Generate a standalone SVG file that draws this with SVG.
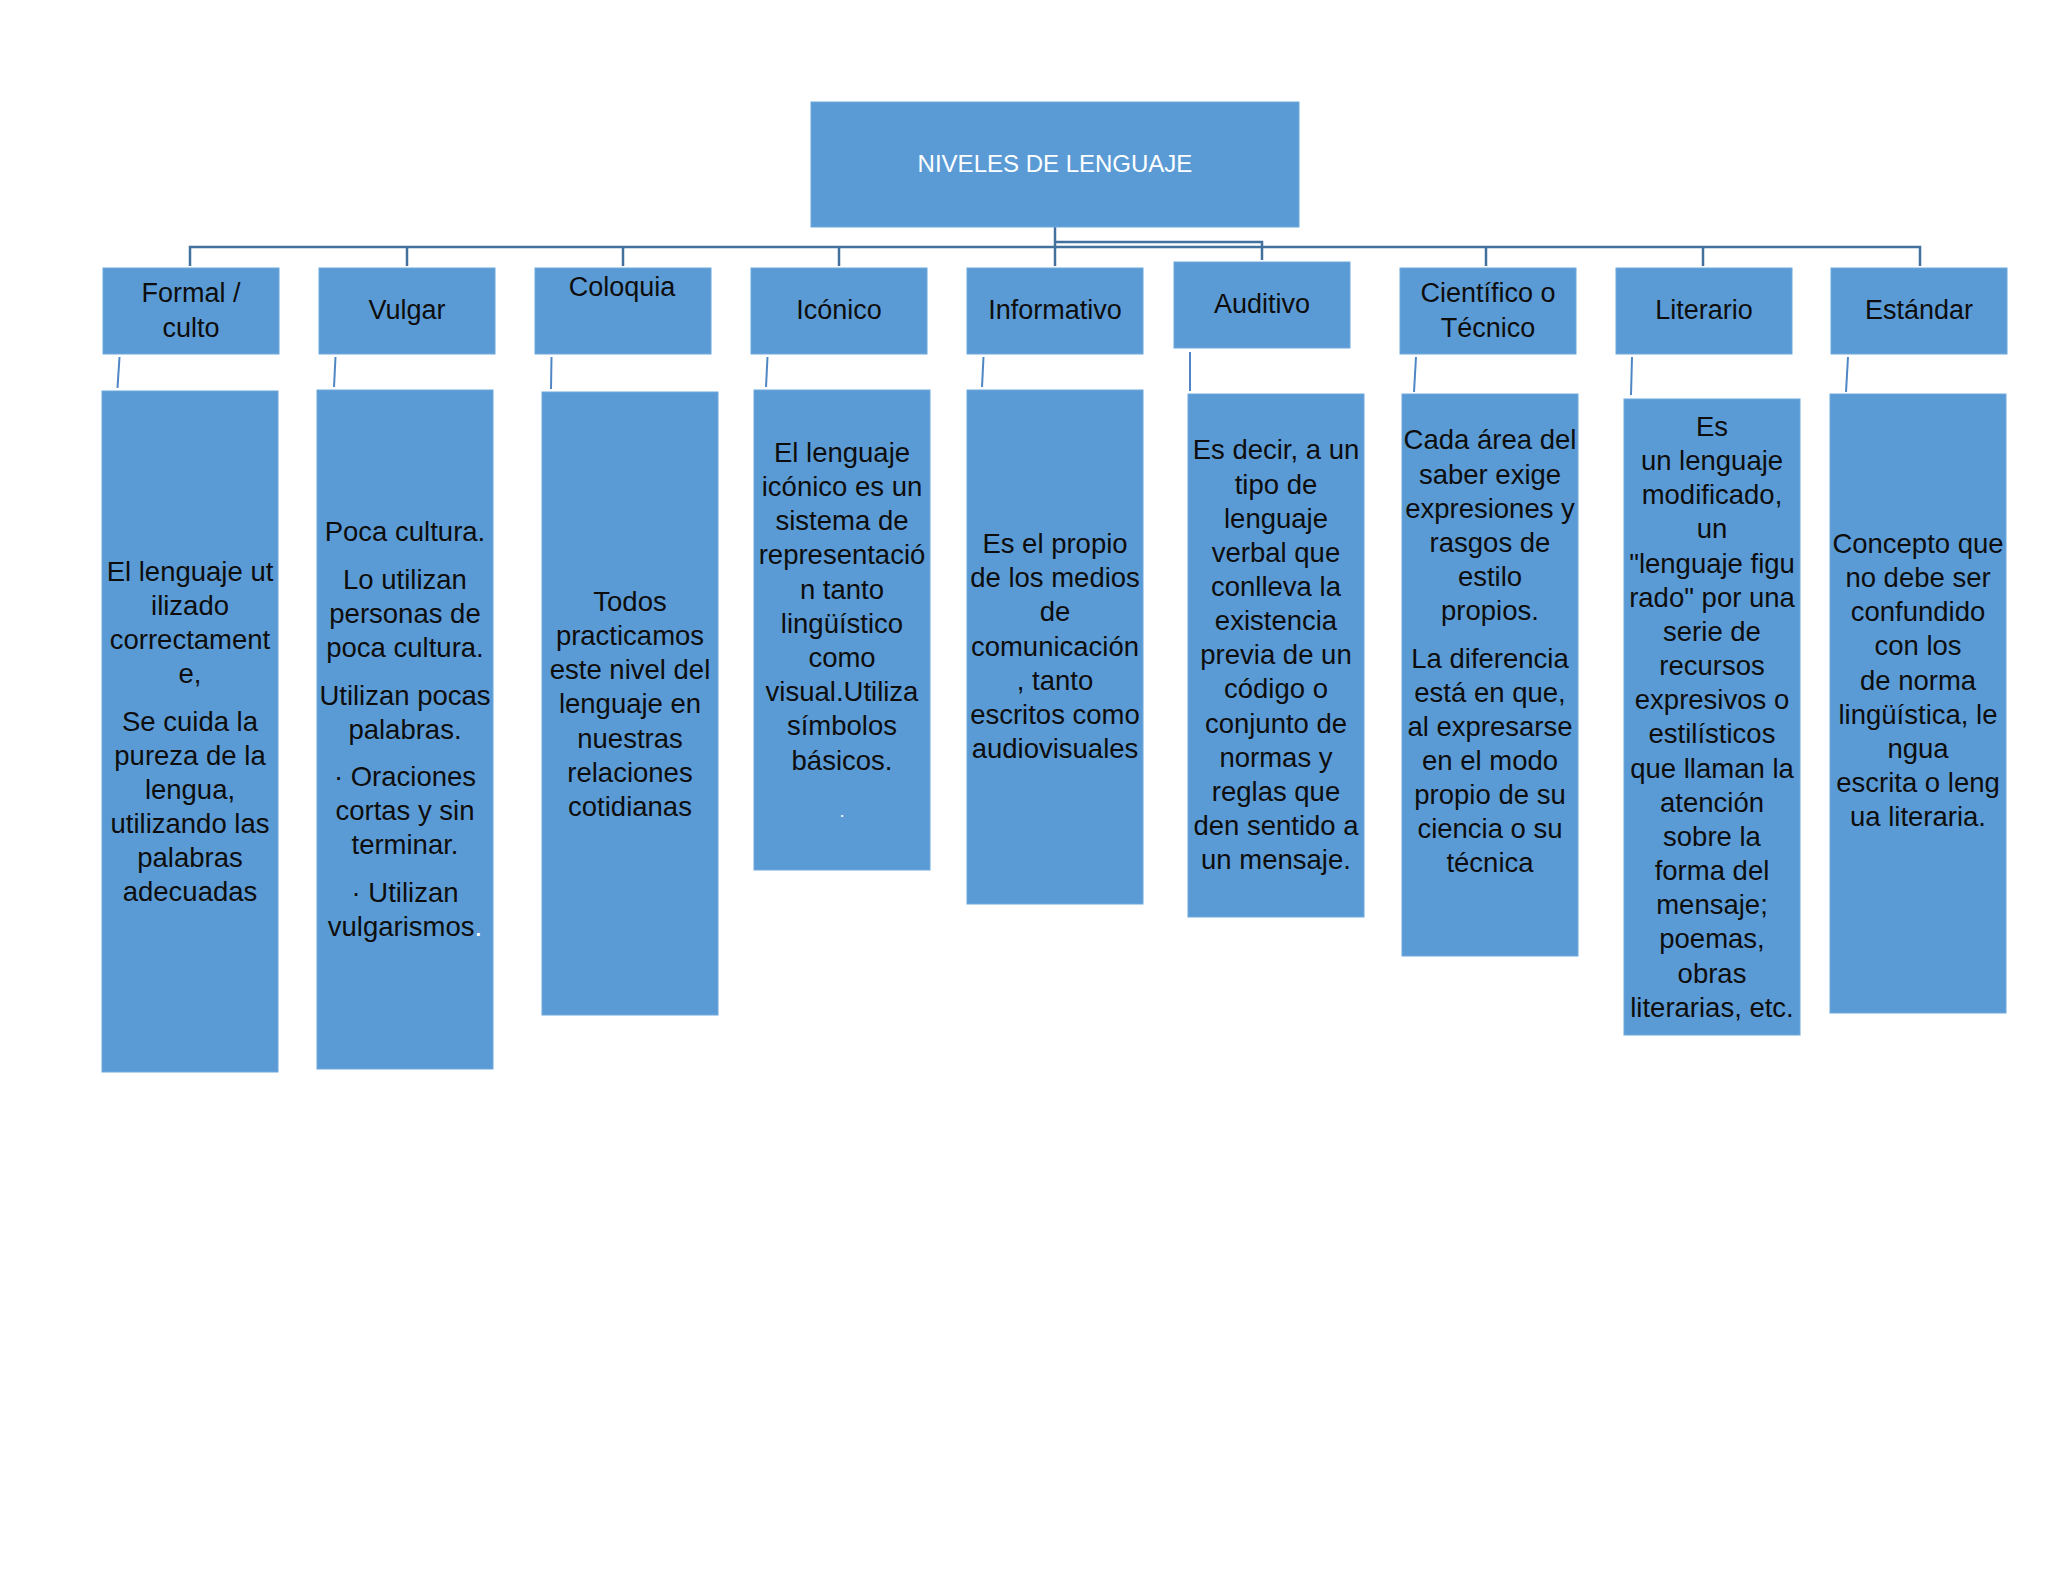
<svg xmlns="http://www.w3.org/2000/svg" width="2048" height="1582" viewBox="0 0 2048 1582">
<style>
.box{fill:#5B9BD5;stroke:#6fa8dc;stroke-width:1}
.hd{font-family:"Liberation Sans",Arial,sans-serif;font-size:27px;fill:#0d0d0d;text-anchor:middle}
.tx{font-family:"Liberation Sans",Arial,sans-serif;font-size:27.5px;fill:#0d0d0d;text-anchor:middle}
.ttl{font-family:"Liberation Sans",Arial,sans-serif;font-size:24px;fill:#ffffff;text-anchor:middle}
.cn{fill:none;stroke:#41719C;stroke-width:2.5}
.sl{fill:none;stroke:#4f87c4;stroke-width:2}
</style>
<rect x="0" y="0" width="2048" height="1582" fill="#ffffff"/>
<g id="connectors">
<path class="cn" d="M1055 227V266"/>
<path class="cn" d="M190 266V247H1920V266"/>
<path class="cn" d="M407 247V266M623 247V266M839 247V266M1486 247V266M1703 247V266"/>
<path class="cn" d="M1055 242H1262V260"/>
<path class="sl" d="M119.5 357L117.5 388"/>
<path class="sl" d="M335.5 357L334 387"/>
<path class="sl" d="M551.5 357L551 389"/>
<path class="sl" d="M767.5 357L766 387"/>
<path class="sl" d="M983.5 357L982 387"/>
<path class="sl" d="M1190 352L1190 391"/>
<path class="sl" d="M1416 357L1414 392"/>
<path class="sl" d="M1632 357L1631 395"/>
<path class="sl" d="M1848 357L1846 392"/>
</g>
<g id="title">
<rect class="box" x="811" y="102" width="488" height="125"/>
<text class="ttl" x="1055" y="172">NIVELES DE LENGUAJE</text>
</g>
<g id="formal">
<rect class="box" x="103" y="268" width="176" height="86"/>
<text class="hd" x="191" y="302">Formal /</text>
<text class="hd" x="191" y="337">culto</text>
</g>
<g id="vulgar">
<rect class="box" x="319" y="268" width="176" height="86"/>
<text class="hd" x="407" y="319">Vulgar</text>
</g>
<g id="coloquia">
<rect class="box" x="535" y="268" width="176" height="86"/>
<text class="hd" x="622" y="296">Coloquia</text>
</g>
<g id="iconico">
<rect class="box" x="751" y="268" width="176" height="86"/>
<text class="hd" x="839" y="319">Icónico</text>
</g>
<g id="informativo">
<rect class="box" x="967" y="268" width="176" height="86"/>
<text class="hd" x="1055" y="319">Informativo</text>
</g>
<g id="auditivo">
<rect class="box" x="1174" y="262" width="176" height="86"/>
<text class="hd" x="1262" y="313">Auditivo</text>
</g>
<g id="cientifico">
<rect class="box" x="1400" y="268" width="176" height="86"/>
<text class="hd" x="1488" y="302">Científico o</text>
<text class="hd" x="1488" y="337">Técnico</text>
</g>
<g id="literario">
<rect class="box" x="1616" y="268" width="176" height="86"/>
<text class="hd" x="1704" y="319">Literario</text>
</g>
<g id="estandar">
<rect class="box" x="1831" y="268" width="176" height="86"/>
<text class="hd" x="1919" y="319">Estándar</text>
</g>
<g id="formal-desc">
<rect class="box" x="102" y="391" width="176" height="681"/>
<text class="tx" x="190"><tspan x="190" y="581">El lenguaje ut</tspan><tspan x="190" y="615">ilizado</tspan><tspan x="190" y="649">correctament</tspan><tspan x="190" y="683">e,</tspan><tspan x="190" y="731">Se cuida la</tspan><tspan x="190" y="765">pureza de la</tspan><tspan x="190" y="799">lengua,</tspan><tspan x="190" y="833">utilizando las</tspan><tspan x="190" y="867">palabras</tspan><tspan x="190" y="901">adecuadas</tspan></text>
</g>
<g id="vulgar-desc">
<rect class="box" x="317" y="390" width="176" height="679"/>
<text class="tx" x="405"><tspan x="405" y="541">Poca cultura.</tspan><tspan x="405" y="589">Lo utilizan</tspan><tspan x="405" y="623">personas de</tspan><tspan x="405" y="657">poca cultura.</tspan><tspan x="405" y="705">Utilizan pocas</tspan><tspan x="405" y="739">palabras.</tspan><tspan x="405" y="786">· Oraciones</tspan><tspan x="405" y="820">cortas y sin</tspan><tspan x="405" y="854">terminar.</tspan><tspan x="405" y="902">· Utilizan</tspan><tspan x="405" y="936">vulgarismos<tspan fill="#ffffff">.</tspan></tspan></text>
</g>
<g id="coloquia-desc">
<rect class="box" x="542" y="392" width="176" height="623"/>
<text class="tx" x="630"><tspan x="630" y="611">Todos</tspan><tspan x="630" y="645">practicamos</tspan><tspan x="630" y="679">este nivel del</tspan><tspan x="630" y="713">lenguaje en</tspan><tspan x="630" y="748">nuestras</tspan><tspan x="630" y="782">relaciones</tspan><tspan x="630" y="816">cotidianas</tspan></text>
</g>
<g id="iconico-desc">
<rect class="box" x="754" y="390" width="176" height="480"/>
<text class="tx" x="842"><tspan x="842" y="462">El lenguaje</tspan><tspan x="842" y="496">icónico es un</tspan><tspan x="842" y="530">sistema de</tspan><tspan x="842" y="564">representació</tspan><tspan x="842" y="599">n tanto</tspan><tspan x="842" y="633">lingüístico</tspan><tspan x="842" y="667">como</tspan><tspan x="842" y="701">visual.Utiliza</tspan><tspan x="842" y="735">símbolos</tspan><tspan x="842" y="770">básicos.</tspan></text>
<text x="842" y="817" fill="#ffffff" font-family="Liberation Sans, Arial, sans-serif" font-size="18" text-anchor="middle">.</text>
</g>
<g id="informativo-desc">
<rect class="box" x="967" y="390" width="176" height="514"/>
<text class="tx" x="1055"><tspan x="1055" y="553">Es el propio</tspan><tspan x="1055" y="587">de los medios</tspan><tspan x="1055" y="621">de</tspan><tspan x="1055" y="656">comunicación</tspan><tspan x="1055" y="690">, tanto</tspan><tspan x="1055" y="724">escritos como</tspan><tspan x="1055" y="758">audiovisuales</tspan></text>
</g>
<g id="auditivo-desc">
<rect class="box" x="1188" y="394" width="176" height="523"/>
<text class="tx" x="1276"><tspan x="1276" y="459">Es decir, a un</tspan><tspan x="1276" y="494">tipo de</tspan><tspan x="1276" y="528">lenguaje</tspan><tspan x="1276" y="562">verbal que</tspan><tspan x="1276" y="596">conlleva la</tspan><tspan x="1276" y="630">existencia</tspan><tspan x="1276" y="664">previa de un</tspan><tspan x="1276" y="698">código o</tspan><tspan x="1276" y="733">conjunto de</tspan><tspan x="1276" y="767">normas  y</tspan><tspan x="1276" y="801">reglas que</tspan><tspan x="1276" y="835">den sentido a</tspan><tspan x="1276" y="869">un mensaje.</tspan></text>
</g>
<g id="cientifico-desc">
<rect class="box" x="1402" y="394" width="176" height="562"/>
<text class="tx" x="1490"><tspan x="1490" y="449">Cada área del</tspan><tspan x="1490" y="484">saber exige</tspan><tspan x="1490" y="518">expresiones y</tspan><tspan x="1490" y="552">rasgos de</tspan><tspan x="1490" y="586">estilo</tspan><tspan x="1490" y="620">propios.</tspan><tspan x="1490" y="668">La diferencia</tspan><tspan x="1490" y="702">está en que,</tspan><tspan x="1490" y="736">al expresarse</tspan><tspan x="1490" y="770">en el modo</tspan><tspan x="1490" y="804">propio de su</tspan><tspan x="1490" y="838">ciencia o su</tspan><tspan x="1490" y="872">técnica</tspan></text>
</g>
<g id="literario-desc">
<rect class="box" x="1624" y="399" width="176" height="636"/>
<text class="tx" x="1712"><tspan x="1712" y="436">Es</tspan><tspan x="1712" y="470">un lenguaje</tspan><tspan x="1712" y="504">modificado,</tspan><tspan x="1712" y="538">un</tspan><tspan x="1712" y="573">"lenguaje figu</tspan><tspan x="1712" y="607">rado" por una</tspan><tspan x="1712" y="641">serie de</tspan><tspan x="1712" y="675">recursos</tspan><tspan x="1712" y="709">expresivos o</tspan><tspan x="1712" y="743">estilísticos</tspan><tspan x="1712" y="778">que llaman la</tspan><tspan x="1712" y="812">atención</tspan><tspan x="1712" y="846">sobre la</tspan><tspan x="1712" y="880">forma  del</tspan><tspan x="1712" y="914">mensaje;</tspan><tspan x="1712" y="948">poemas,</tspan><tspan x="1712" y="983">obras</tspan><tspan x="1712" y="1017">literarias, etc.</tspan></text>
</g>
<g id="estandar-desc">
<rect class="box" x="1830" y="394" width="176" height="619"/>
<text class="tx" x="1918"><tspan x="1918" y="553">Concepto que</tspan><tspan x="1918" y="587">no debe ser</tspan><tspan x="1918" y="621">confundido</tspan><tspan x="1918" y="655">con los</tspan><tspan x="1918" y="690">de norma</tspan><tspan x="1918" y="724">lingüística, le</tspan><tspan x="1918" y="758">ngua</tspan><tspan x="1918" y="792">escrita o leng</tspan><tspan x="1918" y="826">ua literaria.</tspan></text>
</g>
</svg>
